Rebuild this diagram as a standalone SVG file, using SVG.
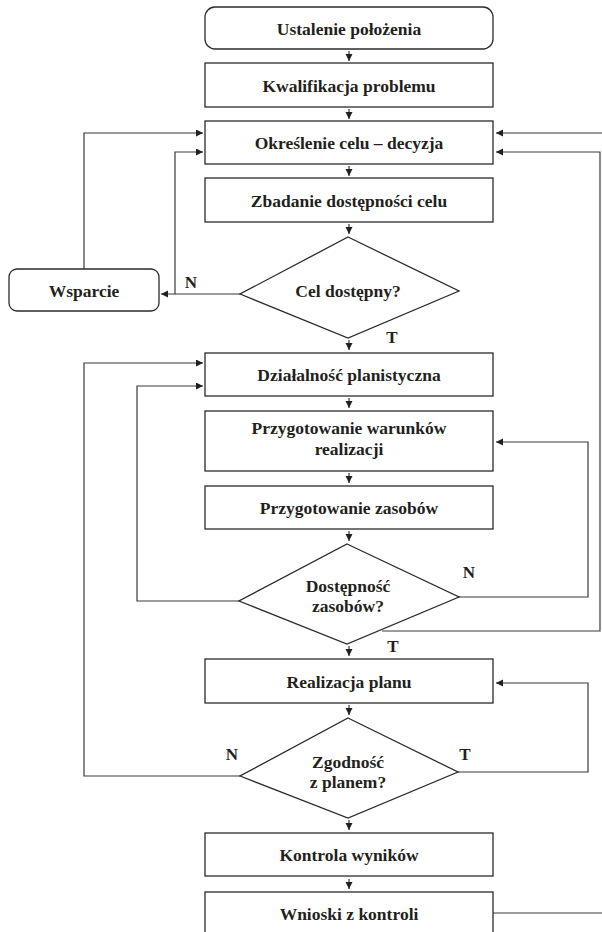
<svg xmlns="http://www.w3.org/2000/svg" width="602" height="932" viewBox="0 0 602 932">
<style>
.box{fill:#fff;stroke:#2b2b2b;stroke-width:1.3}
.t{font-family:"Liberation Serif","DejaVu Serif",serif;font-weight:bold;font-size:17.5px;fill:#231f20;text-anchor:middle}
.lbl{font-family:"Liberation Serif","DejaVu Serif",serif;font-weight:bold;font-size:17px;fill:#231f20;text-anchor:middle}
.c{fill:none;stroke:#3a3a3a;stroke-width:1.2}
.a{marker-end:url(#ah)}
</style>
<defs>
<marker id="ah" markerUnits="userSpaceOnUse" markerWidth="8" markerHeight="8" refX="7" refY="3.5" orient="auto">
<path d="M0,0 L7,3.5 L0,7 z" fill="#231f20"/>
</marker>
</defs>
<rect width="602" height="932" fill="#fff"/>
<g id="connectors">
<line class="c a" x1="349" y1="51" x2="349" y2="61"/>
<line class="c a" x1="349" y1="109" x2="349" y2="119"/>
<line class="c a" x1="349" y1="166" x2="349" y2="176"/>
<line class="c a" x1="349" y1="224" x2="349" y2="234"/>
<line class="c a" x1="349" y1="340" x2="349" y2="350"/>
<line class="c a" x1="349" y1="398" x2="349" y2="408"/>
<line class="c a" x1="349" y1="473" x2="349" y2="483"/>
<line class="c a" x1="349" y1="531" x2="349" y2="541"/>
<line class="c a" x1="349" y1="646" x2="349" y2="656"/>
<line class="c a" x1="349" y1="705" x2="349" y2="715"/>
<line class="c a" x1="349" y1="820" x2="349" y2="830"/>
<line class="c a" x1="349" y1="879" x2="349" y2="889"/>
<polyline class="c a" points="602,133 496,133"/>
<polyline class="c a" points="382,631 600,631 600,152 496,152"/>
<polyline class="c a" points="84,269 84,133 203,133"/>
<polyline class="c a" points="240,294 161,294"/>
<polyline class="c a" points="175,294 175,152 203,152"/>
<polyline class="c a" points="240,601 137,601 137,386 203,386"/>
<polyline class="c a" points="240,776 84,776 84,363 203,363"/>
<polyline class="c a" points="459,597 588,597 588,442 496,442"/>
<polyline class="c a" points="458,772 588,772 588,683 496,683"/>
<polyline class="c" points="493,913 602,913"/>
</g>
<g id="n1"><rect class="box" x="205" y="7" width="288" height="42" rx="10"/><text class="t" x="349" y="34.5">Ustalenie położenia</text></g>
<g id="n2"><rect class="box" x="205" y="63" width="288" height="44"/><text class="t" x="349" y="91.5">Kwalifikacja problemu</text></g>
<g id="n3"><rect class="box" x="205" y="121" width="288" height="43"/><text class="t" x="349" y="149">Określenie celu – decyzja</text></g>
<g id="n4"><rect class="box" x="205" y="178" width="288" height="44"/><text class="t" x="349" y="206.5">Zbadanie dostępności celu</text></g>
<g id="d1"><polygon class="box" points="348,237 459,291 348,338 240,294"/><text class="t" x="348" y="297">Cel dostępny?</text></g>
<g id="ws"><rect class="box" x="9" y="269" width="150" height="42" rx="8"/><text class="t" x="84" y="296.5">Wsparcie</text></g>
<g id="n5"><rect class="box" x="205" y="353" width="288" height="43"/><text class="t" x="349" y="381">Działalność planistyczna</text></g>
<g id="n6"><rect class="box" x="205" y="411" width="288" height="60"/><text class="t" x="349" y="434">Przygotowanie warunków</text><text class="t" x="349" y="454.5">realizacji</text></g>
<g id="n7"><rect class="box" x="205" y="486" width="288" height="43"/><text class="t" x="349" y="514">Przygotowanie zasobów</text></g>
<g id="d2"><polygon class="box" points="347,544 459,597 347,644 239,601"/><text class="t" x="348" y="591.5">Dostępność</text><text class="t" x="348" y="612">zasobów?</text></g>
<g id="n8"><rect class="box" x="205" y="659" width="288" height="44"/><text class="t" x="349" y="687.5">Realizacja planu</text></g>
<g id="d3"><polygon class="box" points="348,718 458,772 348,818 240,776"/><text class="t" x="348" y="767.5">Zgodność</text><text class="t" x="348" y="788">z planem?</text></g>
<g id="n9"><rect class="box" x="205" y="833" width="288" height="43"/><text class="t" x="349" y="861">Kontrola wyników</text></g>
<g id="n10"><rect class="box" x="205" y="892" width="288" height="50"/><text class="t" x="349" y="920">Wnioski z kontroli</text></g>
<g id="labels">
<text class="lbl" x="191" y="288">N</text>
<text class="lbl" x="392" y="343">T</text>
<text class="lbl" x="469" y="578">N</text>
<text class="lbl" x="393" y="652">T</text>
<text class="lbl" x="232" y="760">N</text>
<text class="lbl" x="465" y="760">T</text>
</g>
</svg>
